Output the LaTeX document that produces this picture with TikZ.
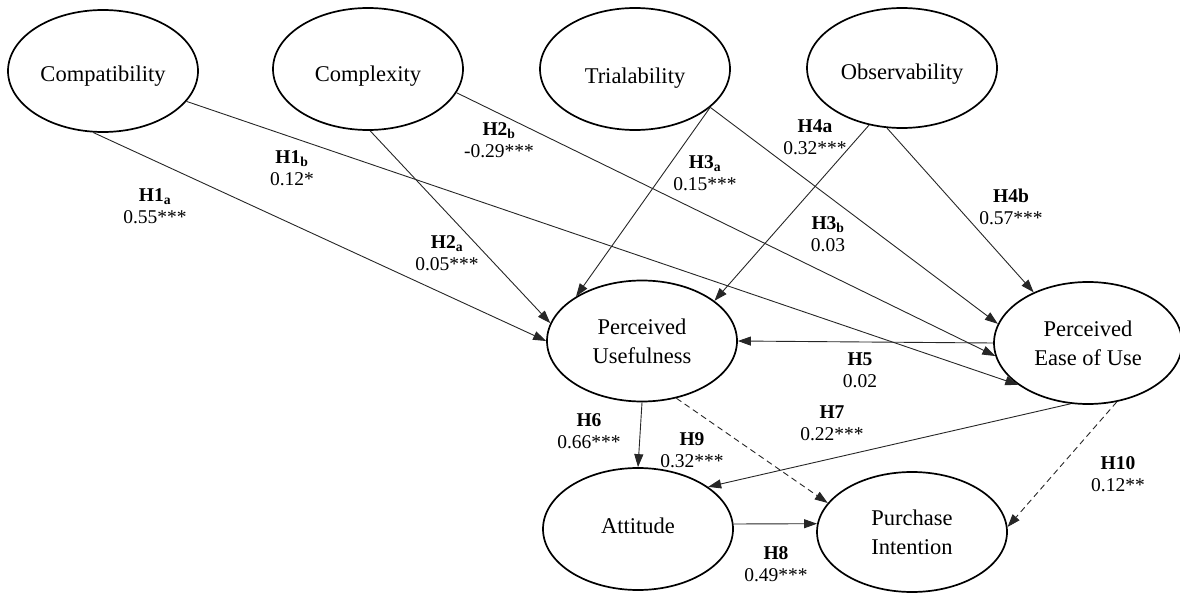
\documentclass[tikz,border=0pt]{standalone}
\usepackage{fontspec}
\setmainfont{Liberation Serif}
\usetikzlibrary{shapes.geometric,arrows.meta}
\begin{document}
\begin{tikzpicture}[x=1pt,y=-1pt,
  var/.style={ellipse,draw,line width=1.7pt,minimum width=190pt,minimum height=122pt,inner sep=0pt,align=center,font=\fontsize{22.5}{29}\selectfont},
  txtlow/.style={text height=#1,text depth=0pt},
  lbl/.style={align=center,font=\fontsize{19.5}{22}\selectfont,inner sep=0pt},
  conn/.style={line width=0.9pt,draw=black!85,-{Triangle[length=13pt,width=9pt]}},
  dconn/.style={conn,dash pattern=on 6pt off 4pt}]
\useasboundingbox (0,0) rectangle (1180,593);
% variables
\node[var,txtlow=20.5pt] (comp)  at (103,71)  {Compatibility};
\node[var,txtlow=24.5pt] (cplx)  at (368,69)  {Complexity};
\node[var,txtlow=28.5pt] (trial) at (635,69)  {Trialability};
\node[var,txtlow=22.5pt,minimum height=120pt] (obs) at (902,68) {Observability};
\node[var,minimum height=121pt] (pu) at (642,341) {Perceived\\Usefulness};
\node[var,minimum width=188pt] (peou) at (1088,343) {Perceived\\Ease of Use};
\node[var,text height=15.4pt,text depth=7pt] (att) at (638,529) {Attitude};
\node[var,minimum height=120pt] (pi) at (912,532) {Purchase\\Intention};
% connectors
\draw[conn] (comp.261) -- (pu.180);
\draw[conn] (comp.340) -- (peou.211);
\draw[conn] (cplx.272) -- (pu.169);
\draw[conn] (cplx.345) -- (peou.188);
\draw[conn] (trial.333) -- (pu.146);
\draw[conn] (trial.333) -- (peou.168);
\draw[conn] (obs.240) -- (pu.29);
\draw[conn] (obs.256) -- (peou.137);
\draw[conn] (peou.180) -- (pu.0);
\draw[conn] (pu.south) -- (att.north);
\draw[conn] (peou.254) -- (att.31);
\draw[conn] (att.3) -- (pi.175);
\draw[dconn] (pu.301) -- (pi.161);
\draw[dconn] (peou.296) -- (pi.3);
% labels
\node[lbl] (l1a) at (155,206) {\textbf{H1\textsubscript{a}}\\0.55***};
\node[lbl] (l1b) at (292,168) {\textbf{H1\textsubscript{b}}\\0.12*};
\node[lbl] (l2a) at (447,253) {\textbf{H2\textsubscript{a}}\\0.05***};
\node[lbl] (l2b) at (499,140) {\textbf{H2\textsubscript{b}}\\-0.29***};
\node[lbl] (l3a) at (705,173) {\textbf{H3\textsubscript{a}}\\0.15***};
\node[lbl] (l3b) at (828,234) {\textbf{H3\textsubscript{b}}\\0.03};
\node[lbl] (l4a) at (815,137) {\textbf{H4a}\\0.32***};
\node[lbl] (l4b) at (1011,207) {\textbf{H4b}\\0.57***};
\node[lbl] (l5)  at (860,370) {\textbf{H5}\\0.02};
\node[lbl] (l6)  at (589,431) {\textbf{H6}\\0.66***};
\node[lbl] (l7)  at (832,423) {\textbf{H7}\\0.22***};
\node[lbl] (l8)  at (776,564) {\textbf{H8}\\0.49***};
\node[lbl] (l9)  at (692,450) {\textbf{H9}\\0.32***};
\node[lbl] (l10) at (1118,474) {\textbf{H10}\\0.12**};
\end{tikzpicture}
\end{document}
